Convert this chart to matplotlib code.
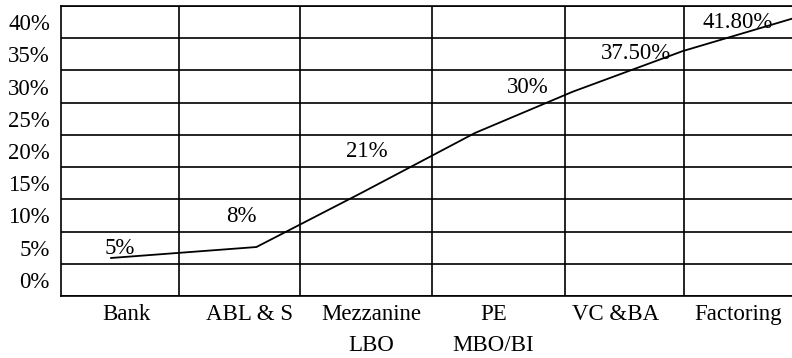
import numpy as np
import matplotlib
matplotlib.use('Agg')
from matplotlib import pyplot as plt

categories = ['Bank', 'ABL & S', 'Mezzanine\nLBO', 'PE\nMBO/BI', 'VC &BA', 'Factoring']
yticks = [0, 5, 10, 15, 20, 25, 30, 35, 40]
ytick_labels = ['%d%%' % v for v in yticks]

# the drawn line (as it sits in the picture, in category units / percent)
line_x = [-0.13, 1.06, 1.92, 2.85, 3.65, 4.55, 5.44]
line_y = [3.4, 5.1, 13.5, 22.8, 29.2, 35.5, 40.5]

# value labels and where they sit
labels = ['5%', '8%', '21%', '30%', '37.50%', '41.80%']
label_x = [-0.06, 0.94, 1.96, 3.28, 4.17, 5.0]
label_y = [4.8, 9.8, 19.9, 29.8, 35.1, 39.9]

# column boundaries of the grid
col_edges = [0.43, 1.42, 2.5, 3.59, 4.56]
row_edges = np.arange(-2.5, 45, 5)

plt.rcParams['font.family'] = ['Liberation Serif', 'DejaVu Serif']
fs = 16.5

fig = plt.figure(figsize=(7.92, 3.58), dpi=100)
ax = fig.add_axes([61/792., 62/358., 745/792., 290/358.])

ax.plot(line_x, line_y, color='k', lw=1.3, clip_on=False)
for t, x, y in zip(labels, label_x, label_y):
    ax.text(x, y, t, ha='center', va='center', fontsize=fs)

ax.set_xlim((-0.54, 5.56))
ax.set_ylim((-2.5, 42.5))

ax.set_xticks(range(len(categories)))
ax.set_xticklabels(categories, fontsize=fs, linespacing=1.6, va='top')
ax.set_yticks(yticks)
ax.set_yticklabels(ytick_labels, fontsize=fs)
ax.tick_params(axis='both', which='major', length=0)
ax.tick_params(axis='x', pad=6)
ax.tick_params(axis='y', pad=8)

ax.set_xticks(col_edges, minor=True)
ax.set_yticks(row_edges, minor=True)
ax.tick_params(which='minor', length=0)
ax.grid(which='minor', color='k', lw=1.2)
ax.grid(which='major', visible=False)
for s in ax.spines.values():
    s.set_linewidth(1.2)

fig.savefig('out.png', dpi=100)
